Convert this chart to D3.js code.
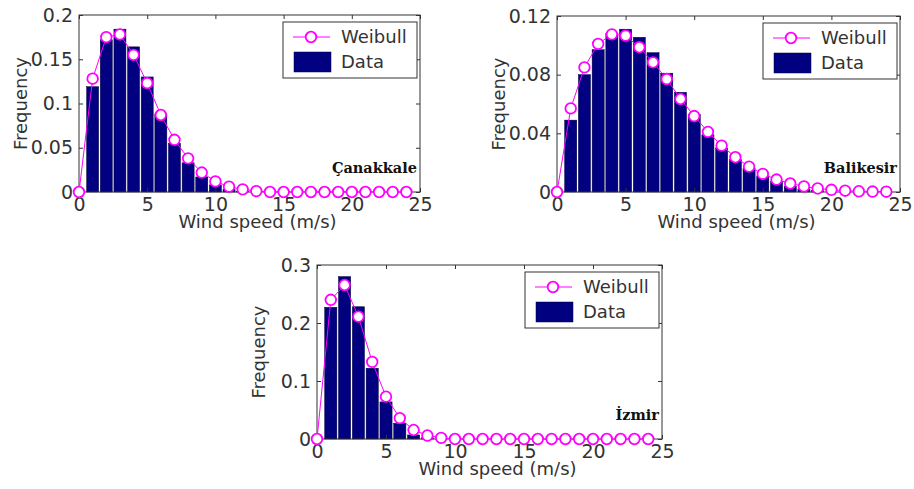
<!DOCTYPE html>
<html>
<head>
<meta charset="utf-8">
<script src="https://cdn.jsdelivr.net/npm/d3@7"></script>
<style>
  body { margin: 0; background: #fff; }
  svg { display: block; }
</style>
</head>
<body>
<svg width="914" height="489"></svg>
<script>
// wind speed bins (m/s)
const speeds = [0, 1, 2, 3, 4, 5, 6, 7, 8, 9, 10, 11, 12, 13, 14, 15, 16, 17, 18, 19, 20, 21, 22, 23, 24];
const xTicks = [0, 5, 10, 15, 20, 25];

const stationNames = ["Çanakkale", "Balikesir", "İzmir"];

const canakkaleData    = [0, 0.119, 0.172, 0.184, 0.164, 0.130, 0.088, 0.055, 0.033, 0.017, 0.008, 0.003, 0.001, 0, 0, 0, 0, 0, 0, 0, 0, 0, 0, 0, 0];
const canakkaleWeibull = [0, 0.128, 0.175, 0.178, 0.155, 0.123, 0.087, 0.059, 0.038, 0.022, 0.012, 0.006, 0.003, 0.001, 0, 0, 0, 0, 0, 0, 0, 0, 0, 0, 0];
const canakkaleYTicks  = [0, 0.05, 0.1, 0.15, 0.2];

const balikesirData    = [0, 0.049, 0.080, 0.097, 0.108, 0.111, 0.1055, 0.095, 0.081, 0.068, 0.053, 0.039, 0.030, 0.022, 0.016, 0.011, 0.007, 0.004, 0.002, 0.001, 0, 0, 0, 0, 0];
const balikesirWeibull = [0, 0.057, 0.085, 0.101, 0.1075, 0.1066, 0.0987, 0.0884, 0.077, 0.0634, 0.0518, 0.041, 0.0316, 0.0237, 0.0173, 0.0123, 0.0085, 0.0058, 0.0038, 0.0024, 0.0015, 0.0009, 0.0005, 0.0003, 0.0002];
const balikesirYTicks  = [0, 0.04, 0.08, 0.12];

const izmirData    = [0, 0.227, 0.280, 0.228, 0.122, 0.064, 0.027, 0.007, 0.002, 0, 0, 0, 0, 0, 0, 0, 0, 0, 0, 0, 0, 0, 0, 0, 0];
const izmirWeibull = [0, 0.240, 0.2655, 0.211, 0.133, 0.073, 0.036, 0.0155, 0.006, 0.002, 0, 0, 0, 0, 0, 0, 0, 0, 0, 0, 0, 0, 0, 0, 0];
const izmirYTicks  = [0, 0.1, 0.2, 0.3];

const panels = [
  { name: stationNames[0], data: canakkaleData, weibull: canakkaleWeibull, yTicks: canakkaleYTicks, left: 79, right: 420, top: 15, bottom: 192 },
  { name: stationNames[1], data: balikesirData, weibull: balikesirWeibull, yTicks: balikesirYTicks, left: 557, right: 900, top: 16, bottom: 192 },
  { name: stationNames[2], data: izmirData, weibull: izmirWeibull, yTicks: izmirYTicks, left: 317, right: 662, top: 265, bottom: 439 }
];

const ink = "#333",
      magenta = "#ff00ff",
      navy = "#000080",
      font = "DejaVu Sans";

const svg = d3.select("svg");

panels.forEach(p => {
  const x = d3.scaleLinear().domain([0, 25]).range([p.left, p.right]);
  const y = d3.scaleLinear().domain([0, d3.max(p.yTicks)]).range([p.bottom, p.top]);
  const g = svg.append("g");

  const bars = speeds.map((s, j) => ({ s, v: p.data[j] })).filter(d => d.v > 0);
  const fit = speeds.map((s, j) => ({ s, v: p.weibull[j] }));
  const bw = (x(1) - x(0)) * 0.88;

  g.selectAll(".bar")
    .data(bars)
    .enter().append("rect")
    .attr("class", "bar")
    .attr("x", d => x(d.s) - bw / 2)
    .attr("y", d => y(d.v))
    .attr("width", bw)
    .attr("height", d => y(0) - y(d.v))
    .attr("fill", navy)
    .attr("stroke", "#000040")
    .attr("stroke-width", 0.5);

  // axes box
  g.append("rect")
    .attr("x", p.left).attr("y", p.top)
    .attr("width", p.right - p.left).attr("height", p.bottom - p.top)
    .attr("fill", "none").attr("stroke", ink);

  const styleAxis = a => {
    a.select(".domain").remove();
    a.attr("color", ink).attr("font-family", font).attr("font-size", 19);
  };

  g.append("g").attr("transform", `translate(0,${p.bottom})`)
    .call(d3.axisBottom(x).tickValues(xTicks).tickSize(-4).tickSizeOuter(0).tickPadding(6))
    .call(styleAxis);
  g.append("g").attr("transform", `translate(0,${p.top})`)
    .call(d3.axisTop(x).tickValues(xTicks).tickSize(-4).tickSizeOuter(0).tickFormat(""))
    .call(styleAxis);
  g.append("g").attr("transform", `translate(${p.left},0)`)
    .call(d3.axisLeft(y).tickValues(p.yTicks).tickSize(-4).tickSizeOuter(0).tickPadding(6).tickFormat(d => String(d)))
    .call(styleAxis);
  g.append("g").attr("transform", `translate(${p.right},0)`)
    .call(d3.axisRight(y).tickValues(p.yTicks).tickSize(-4).tickSizeOuter(0).tickFormat(""))
    .call(styleAxis);

  // weibull fit
  g.append("path")
    .datum(fit)
    .attr("fill", "none")
    .attr("stroke", magenta)
    .attr("stroke-width", 1)
    .attr("d", d3.line().x(d => x(d.s)).y(d => y(d.v)));

  g.selectAll(".dot")
    .data(fit)
    .enter().append("circle")
    .attr("class", "dot")
    .attr("cx", d => x(d.s))
    .attr("cy", d => y(d.v))
    .attr("r", 5.3)
    .attr("fill", "#fff")
    .attr("stroke", magenta)
    .attr("stroke-width", 1.8);

  // axis titles
  g.append("text")
    .attr("x", (p.left + p.right) / 2 + 8)
    .attr("y", p.bottom + 36)
    .attr("text-anchor", "middle")
    .attr("font-family", font).attr("font-size", 18).attr("fill", ink)
    .text("Wind speed (m/s)");

  g.append("text")
    .attr("transform", `translate(${p.left - 58},${(p.top + p.bottom) / 2}) rotate(-90)`)
    .attr("dy", "0.36em")
    .attr("text-anchor", "middle")
    .attr("font-family", font).attr("font-size", 18).attr("fill", ink)
    .text("Frequency");

  // station name
  g.append("text")
    .attr("x", p.right - 3)
    .attr("y", p.bottom - 19)
    .attr("text-anchor", "end")
    .attr("font-family", "DejaVu Serif").attr("font-weight", "bold").attr("font-size", 14.5)
    .attr("fill", "#111")
    .text(p.name);

  // legend
  const lw = 134, lh = 56;
  const lx = p.right - 3 - lw, ly = p.top + 7;
  const leg = g.append("g").attr("transform", `translate(${lx},${ly})`);
  leg.append("rect").attr("width", lw).attr("height", lh)
    .attr("fill", "#fff").attr("stroke", ink);
  leg.append("line").attr("x1", 10).attr("x2", 47).attr("y1", 15).attr("y2", 15)
    .attr("stroke", magenta);
  leg.append("circle").attr("cx", 28).attr("cy", 15).attr("r", 5.3)
    .attr("fill", "#fff").attr("stroke", magenta).attr("stroke-width", 1.8);
  leg.append("rect").attr("x", 11).attr("y", 30).attr("width", 37).attr("height", 20)
    .attr("fill", navy).attr("stroke", "#000040").attr("stroke-width", 0.5);
  leg.selectAll(".lab")
    .data(["Weibull", "Data"])
    .enter().append("text")
    .attr("class", "lab")
    .attr("x", 58)
    .attr("y", (d, i) => 15 + i * 25)
    .attr("dy", "0.36em")
    .attr("font-family", font).attr("font-size", 18).attr("fill", ink)
    .text(d => d);
});
</script>
</body>
</html>
